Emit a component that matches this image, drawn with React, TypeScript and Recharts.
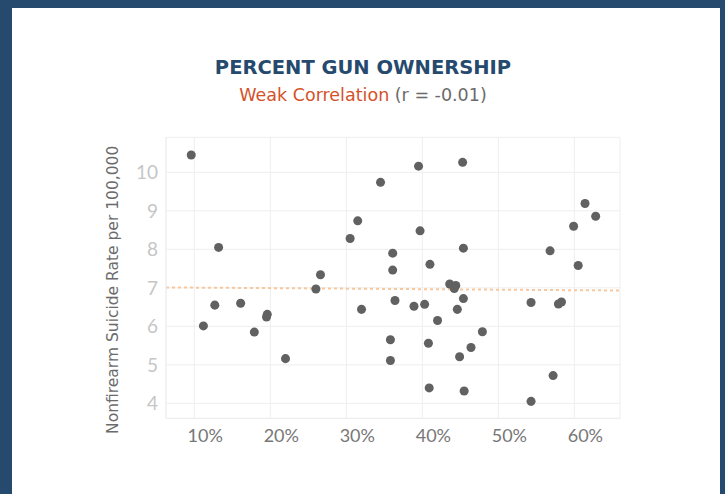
import React from 'react';
import {
  ScatterChart, Scatter, XAxis, YAxis, ZAxis, CartesianGrid, ReferenceLine
} from 'recharts';

// Percent of households owning guns (x) vs nonfirearm suicide rate (y), one point per state
const gunOwnership = [
  9.6, 11.2, 12.7, 13.2, 16.1, 17.9, 19.5, 19.6, 22.0, 26.0,
  26.6, 30.5, 31.5, 32.0, 34.5, 35.8, 35.8, 36.1, 36.1, 36.4,
  38.9, 39.5, 39.7, 40.3, 40.8, 40.9, 41.0, 42.0, 43.6, 44.4,
  44.2, 44.6, 44.9, 45.3, 45.4, 45.4, 45.5, 46.4, 47.9, 54.3,
  54.3, 56.8, 57.2, 57.9, 58.3, 59.9, 60.5, 61.4, 62.8,
];
const suicideRate = [
  10.45, 6.01, 6.55, 8.05, 6.6, 5.85, 6.24, 6.31, 5.16, 6.97,
  7.34, 8.28, 8.74, 6.44, 9.74, 5.65, 5.11, 7.9, 7.46, 6.67,
  6.52, 10.16, 8.48, 6.57, 5.56, 4.4, 7.61, 6.15, 7.1, 7.06,
  6.98, 6.44, 5.21, 10.26, 8.03, 6.72, 4.32, 5.45, 5.86, 6.62,
  4.05, 7.96, 4.72, 6.58, 6.63, 8.6, 7.58, 9.19, 8.86,
];

// fitted trend (r = -0.01), start and end
const trendX = [6.28, 66];
const trendY = [7.01, 6.93];

const xTicks = [10, 20, 30, 40, 50, 60];
const yTicks = [4, 5, 6, 7, 8, 9, 10];

const points = gunOwnership.map((x, i) => ({ x, y: suicideRate[i] }));

const FONT = '"DejaVu Sans", sans-serif';
const TICK_FONT = 'Lato, sans-serif';

const YLabel = (props: any) => {
  const { viewBox } = props;
  const cx = viewBox.x + 7;
  const cy = viewBox.y + viewBox.height / 2 + 12;
  return (
    <text
      x={cx}
      y={cy}
      transform={`rotate(-90, ${cx}, ${cy})`}
      textAnchor="middle"
      dominantBaseline="central"
      fill="#6b6b6b"
      fontSize={15.5}
      fontFamily={FONT}
    >
      Nonfirearm Suicide Rate per 100,000
    </text>
  );
};

export default function App() {
  return (
    <div style={{ position: 'fixed', left: 0, top: 0, width: 725, height: 494, background: '#264a6e', overflow: 'hidden' }}>
      <div style={{ position: 'absolute', left: 12, top: 8, width: 708, height: 486, background: '#fff' }}>

        {/* titles */}
        <div style={{
          position: 'absolute', top: 48, left: 0, width: 702, textAlign: 'center',
          fontFamily: FONT, fontWeight: 700, fontSize: 19.5, color: '#264a6e', lineHeight: '24px'
        }}>
          PERCENT GUN OWNERSHIP
        </div>
        <div style={{
          position: 'absolute', top: 76, left: 0, width: 702, textAlign: 'center',
          fontFamily: FONT, fontSize: 17.5, lineHeight: '22px', color: '#6b6b6b'
        }}>
          <span style={{ color: '#d4522a' }}>Weak Correlation</span> (r = -0.01)
        </div>

        <div style={{ position: 'absolute', left: 0, top: 0 }}>
          <ScatterChart
            width={708}
            height={486}
            margin={{ top: 129.3, right: 100, bottom: 45.7, left: 94 }}
          >
            <CartesianGrid stroke="#eeeeee" />
            <XAxis
              type="number"
              dataKey="x"
              domain={[6.28, 66]}
              ticks={xTicks}
              tickFormatter={(v: number) => `${v}%`}
              height={30}
              tickLine={false}
              tickSize={0}
              tickMargin={11}
              axisLine={{ stroke: '#eeeeee' }}
              tick={{ fill: '#777777', fontSize: 18, fontFamily: TICK_FONT, dx: 11 }}
            />
            <YAxis
              type="number"
              dataKey="y"
              domain={[3.61, 10.91]}
              ticks={yTicks}
              width={60}
              tickLine={false}
              tickSize={0}
              tickMargin={8}
              axisLine={{ stroke: '#eeeeee' }}
              tick={{ fill: '#c6c6c6', fontSize: 19, fontFamily: TICK_FONT }}
              label={<YLabel />}
            />
            <ZAxis range={[70, 70]} />
            <ReferenceLine
              segment={[{ x: trendX[0], y: trendY[0] }, { x: trendX[1], y: trendY[1] }]}
              stroke="#f9c79c"
              strokeWidth={2}
              strokeDasharray="3 3"
            />
            <Scatter data={points} fill="#616161" isAnimationActive={false} />
          </ScatterChart>
        </div>
      </div>
    </div>
  );
}
